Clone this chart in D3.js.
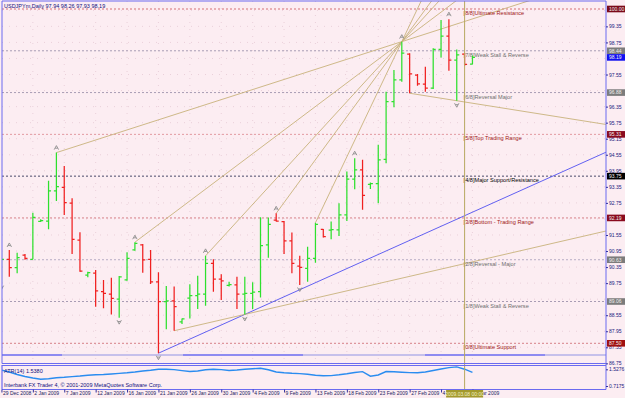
<!DOCTYPE html>
<html>
<head>
<meta charset="utf-8">
<script src="https://cdn.jsdelivr.net/npm/d3@7"></script>
<style>
body { margin: 0; background: #fcedf2; }
svg { display: block; font-family: "Liberation Sans", Arial, sans-serif; }
</style>
</head>
<body>
<svg id="chart" width="625" height="398"></svg>
<script>
// daily bars (forex feed, includes sunday bars)
var dates = ["29 Dec 2008","30 Dec 2008","31 Dec 2008","1 Jan 2009","2 Jan 2009","4 Jan 2009","5 Jan 2009",
  "6 Jan 2009","7 Jan 2009","8 Jan 2009","9 Jan 2009","11 Jan 2009","12 Jan 2009","13 Jan 2009","14 Jan 2009",
  "15 Jan 2009","16 Jan 2009","18 Jan 2009","19 Jan 2009","20 Jan 2009","21 Jan 2009","22 Jan 2009","23 Jan 2009",
  "25 Jan 2009","26 Jan 2009","27 Jan 2009","28 Jan 2009","29 Jan 2009","30 Jan 2009","1 Feb 2009","2 Feb 2009",
  "3 Feb 2009","4 Feb 2009","5 Feb 2009","6 Feb 2009","8 Feb 2009","9 Feb 2009","10 Feb 2009","11 Feb 2009",
  "12 Feb 2009","13 Feb 2009","15 Feb 2009","16 Feb 2009","17 Feb 2009","18 Feb 2009","19 Feb 2009","20 Feb 2009",
  "22 Feb 2009","23 Feb 2009","24 Feb 2009","25 Feb 2009","26 Feb 2009","27 Feb 2009","1 Mar 2009","2 Mar 2009",
  "3 Mar 2009","4 Mar 2009","5 Mar 2009","6 Mar 2009","8 Mar 2009","9 Mar 2009"];
var opens  = [90.40,90.64,90.33,90.80,90.64,92.06,92.07,93.20,93.33,92.74,91.36,90.05,90.12,89.43,89.34,89.15,
  89.87,90.99,91.18,90.64,89.80,89.06,89.09,88.30,89.19,89.28,89.34,90.49,89.90,89.67,89.68,89.34,89.37,89.43,
  91.18,92.11,92.05,91.33,90.39,90.30,90.68,91.76,91.73,91.74,92.30,93.64,93.98,93.44,93.47,94.38,96.54,97.35,
  98.31,97.53,97.19,97.04,98.49,98.99,98.09,98.31,97.94];
var highs  = [90.90,90.99,90.89,90.84,92.38,92.14,93.58,94.63,94.13,92.92,91.65,90.18,90.24,89.87,89.95,90.02,
  90.90,91.28,91.21,90.99,90.16,89.64,89.62,88.43,89.71,90.03,90.77,90.64,90.08,89.80,89.99,89.99,89.78,92.21,
  92.20,92.36,92.07,91.64,90.77,91.11,92.01,91.77,92.05,92.74,93.92,94.42,94.36,93.51,94.92,96.91,97.72,98.78,
  98.35,97.57,97.84,98.53,99.59,99.62,98.49,98.35,98.26];
var lows   = [89.75,89.99,90.12,90.62,90.64,92.04,91.76,92.82,92.30,90.84,90.18,89.97,88.87,88.81,88.58,88.46,
  89.84,90.96,90.14,89.72,87.13,88.03,87.97,88.22,88.43,88.78,88.90,89.43,89.12,89.62,88.78,88.58,88.78,89.21,
  90.70,92.05,90.84,90.12,89.68,89.80,90.51,91.46,91.39,91.51,92.07,93.26,92.49,93.27,92.74,94.23,96.33,97.28,
  96.85,97.13,96.91,97.01,98.19,97.69,96.57,97.88,97.93];
var closes = [90.64,90.33,90.70,90.68,92.21,92.09,93.20,93.36,92.76,91.39,90.20,90.14,89.46,89.37,89.18,89.98,
  90.68,91.24,90.62,89.80,89.06,89.09,88.87,88.41,89.28,89.34,90.49,89.90,89.83,89.69,89.34,89.37,89.41,91.15,
  91.95,92.07,91.33,90.49,90.34,90.68,91.95,91.49,91.75,92.30,93.64,93.98,93.03,93.47,94.36,96.54,97.35,98.35,
  97.57,97.20,97.04,98.49,98.99,98.09,98.28,97.93,98.19];
var atr = [1.484,1.397,1.275,1.178,1.105,1.042,1.071,1.115,1.139,1.173,1.202,1.241,1.261,1.275,1.299,1.329,
  1.358,1.397,1.445,1.484,1.532,1.528,1.513,1.465,1.421,1.445,1.503,1.532,1.513,1.469,1.494,1.532,1.557,1.576,
  1.503,1.397,1.358,1.333,1.319,1.290,1.241,1.217,1.222,1.261,1.309,1.372,1.416,1.193,1.251,1.421,1.406,1.387,
  1.368,1.358,1.397,1.469,1.542,1.610,1.644,1.532,1.382];

// price grid steps; labels that sit under a level box are not drawn
var gridTicks = [99.95,99.35,98.75,98.15,97.55,96.95,96.35,95.75,95.15,94.55,93.95,93.35,92.75,92.15,91.55,
  90.95,90.35,89.75,89.15,88.55,87.95,87.35,86.75];
var priceTicks = [99.35,98.75,97.55,96.35,95.75,95.15,94.55,93.95,93.35,92.75,91.55,
  90.95,90.35,89.75,88.55,87.95,87.35,86.75];
var timeTicks = ["29 Dec 2008","2 Jan 2009","7 Jan 2009","12 Jan 2009","16 Jan 2009","21 Jan 2009","26 Jan 2009",
  "30 Jan 2009","4 Feb 2009","9 Feb 2009","13 Feb 2009","18 Feb 2009","23 Feb 2009","27 Feb 2009","4 Mar 2009","9 Mar 2009"];
var atrTicks = [1.5276, 0.7175];

// murrey math octave
var mmLevels = [100.00,98.4375,96.875,95.3125,93.75,92.1875,90.625,89.0625,87.50];
var mmNames = ["[8/8]Ultimate Resistance","[7/8]Weak Stall & Reverse","[6/8]Reversal Major",
  "[5/8]Top Trading Range","[4/8]Major Support/Resistance","[3/8]Bottom - Trading Range",
  "[2/8]Reversal - Major","[1/8]Weak Stall & Reverse","[0/8]Ultimate Support"];
var mmColors = ["#e29aa0","#a89cb4","#a89cb4","#e29aa0","#4a4a6a","#d68088","#b8aec6","#a89cb4","#d68088"];
var mmText = ["#a01818","#6e6e6e","#6e6e6e","#a01818","#000000","#a01818","#6e6e6e","#6e6e6e","#a01818"];
var mmBox = ["#7a0a1a","#7c7c7c","#7c7c7c","#8a0a1e","#000000","#8a0a1e","#7c7c7c","#7c7c7c","#a01010"];

var fractalUp = ["30 Dec 2008","6 Jan 2009","18 Jan 2009","28 Jan 2009","8 Feb 2009","19 Feb 2009","26 Feb 2009","5 Mar 2009"];
var fractalDown = ["29 Dec 2008","15 Jan 2009","21 Jan 2009","3 Feb 2009","11 Feb 2009","6 Mar 2009"];

var trendLines = [
  {a: ["6 Jan 2009", 94.63], b: ["26 Feb 2009", 98.78], color: "#c8b27c"},
  {a: ["18 Jan 2009", 91.28], b: ["26 Feb 2009", 98.78], color: "#c8b27c"},
  {a: ["28 Jan 2009", 90.77], b: ["26 Feb 2009", 98.78], color: "#c8b27c"},
  {a: ["8 Feb 2009", 92.36], b: ["26 Feb 2009", 98.78], color: "#c8b27c"},
  {a: ["13 Feb 2009", 92.01], b: ["26 Feb 2009", 98.78], color: "#c8b27c"},
  {a: ["21 Jan 2009", 87.13], b: ["3 Feb 2009", 88.58], color: "#5050f0"},
  {a: ["23 Jan 2009", 87.97], b: ["3 Feb 2009", 88.58], color: "#c8b27c"},
  {a: ["27 Feb 2009", 96.85], b: ["6 Mar 2009", 96.57], color: "#c8b27c"}
];

var bars = dates.map(function(d, i) {
  return {date: d, o: opens[i], h: highs[i], l: lows[i], c: closes[i], atr: atr[i]};
});
var byDate = new Map(bars.map(b => [b.date, b]));

var plotLeft = 2, plotRight = 606, plotTop = 1, mainBottom = 363.5, subTop = 365.5, subBottom = 389.5;
var svg = d3.select("#chart");

var x = d3.scalePoint().domain(dates).range([1.45, 472.45]);
var y = d3.scaleLinear().domain([87.5, 100]).range([343.3, 9]);
var ya = d3.scaleLinear().domain([0.7175, 1.5276]).range([386, 369.3]);

var defs = svg.append("defs");
defs.append("clipPath").attr("id", "clipMain").append("rect")
  .attr("x", plotLeft).attr("y", plotTop).attr("width", plotRight - plotLeft).attr("height", mainBottom - plotTop);
defs.append("clipPath").attr("id", "clipSub").append("rect")
  .attr("x", plotLeft).attr("y", subTop).attr("width", plotRight - plotLeft).attr("height", subBottom - subTop);

svg.append("rect").attr("width", 625).attr("height", 398).attr("fill", "#fcedf2");

var main = svg.append("g").attr("clip-path", "url(#clipMain)");

// dotted grid
main.append("g").selectAll("line").data(gridTicks).enter().append("line")
  .attr("x1", plotLeft).attr("x2", plotRight).attr("y1", d => y(d)).attr("y2", d => y(d))
  .attr("stroke", "#e2c4d0").attr("stroke-width", 0.7).attr("stroke-dasharray", "1,6");
main.append("g").selectAll("line").data(timeTicks).enter().append("line")
  .attr("x1", d => x(d)).attr("x2", d => x(d)).attr("y1", plotTop).attr("y2", mainBottom)
  .attr("stroke", "#e2c4d0").attr("stroke-width", 0.7).attr("stroke-dasharray", "1,6");

// bottom band line
var band = [[plotLeft, 62, "#6a6af0"], [62, 183, "#b4b0e8"], [183, 303, "#6a6af0"], [303, 425, "#b4b0e8"],
  [425, 545, "#6a6af0"], [545, plotRight, "#b4b0e8"]];
main.append("g").selectAll("line").data(band).enter().append("line")
  .attr("x1", d => d[0]).attr("x2", d => d[1]).attr("y1", 355).attr("y2", 355)
  .attr("stroke", d => d[2]).attr("stroke-width", 1.6);

// murrey lines
mmLevels.forEach(function(v, i) {
  main.append("line").attr("x1", plotLeft).attr("x2", plotRight).attr("y1", y(v)).attr("y2", y(v))
    .attr("stroke", mmColors[i]).attr("stroke-width", i === 0 ? 1.3 : 1).attr("stroke-dasharray", "2,2");
});

// trend lines, extended to the right edge
trendLines.forEach(function(t) {
  var x1 = x(t.a[0]), y1 = y(t.a[1]), x2 = x(t.b[0]), y2 = y(t.b[1]);
  var k = (y2 - y1) / (x2 - x1);
  main.append("line").attr("x1", x1).attr("y1", y1).attr("x2", plotRight).attr("y2", y1 + k * (plotRight - x1))
    .attr("stroke", t.color).attr("stroke-width", 0.9);
});

// murrey labels
var cursorX = x("8 Mar 2009");
main.append("g").selectAll("text").data(mmLevels).enter().append("text")
  .attr("x", cursorX - 1).attr("y", d => y(d) + 6)
  .attr("font-size", "5.6px").attr("fill", (d, i) => mmText[i])
  .text((d, i) => mmNames[i]);

// ohlc bars
var ohlc = main.append("g").selectAll("g").data(bars).enter().append("g")
  .attr("stroke", d => d.c >= d.o ? "#2ee02e" : "#f02020").attr("stroke-width", 1.25);
ohlc.append("line").attr("x1", d => x(d.date)).attr("x2", d => x(d.date))
  .attr("y1", d => y(d.h)).attr("y2", d => y(d.l));
ohlc.append("line").attr("x1", d => x(d.date) - 2.5).attr("x2", d => x(d.date))
  .attr("y1", d => y(d.o)).attr("y2", d => y(d.o));
ohlc.append("line").attr("x1", d => x(d.date)).attr("x2", d => x(d.date) + 2.5)
  .attr("y1", d => y(d.c)).attr("y2", d => y(d.c));

// fractals
main.append("g").selectAll("path").data(fractalUp).enter().append("path")
  .attr("transform", d => "translate(" + x(d) + "," + (y(byDate.get(d).h) - 5) + ")")
  .attr("d", "M-2.2,2 L0,-2 L2.2,2 M-1.2,0.6 L1.2,0.6")
  .attr("fill", "none").attr("stroke", "#8c8c8c").attr("stroke-width", 0.9);
main.append("g").selectAll("path").data(fractalDown).enter().append("path")
  .attr("transform", d => "translate(" + x(d) + "," + (y(byDate.get(d).l) + 4.5) + ")")
  .attr("d", "M-2.2,-2 L0,2 L2.2,-2 M-1.2,-0.6 L1.2,-0.6")
  .attr("fill", "none").attr("stroke", "#8c8c8c").attr("stroke-width", 0.9);

// atr sub window
var sub = svg.append("g").attr("clip-path", "url(#clipSub)");
sub.append("path").datum(bars)
  .attr("d", d3.line().x(d => x(d.date)).y(d => ya(d.atr)))
  .attr("fill", "none").attr("stroke", "#2a8cf0").attr("stroke-width", 1.4);

// vertical cursor line
svg.append("line").attr("x1", cursorX).attr("x2", cursorX).attr("y1", plotTop).attr("y2", subBottom)
  .attr("stroke", "#b8a860").attr("stroke-width", 1);

// frames
var frame = "#6a6af0";
svg.append("path").attr("d", "M" + plotLeft + "," + mainBottom + "V" + plotTop + "H" + plotRight + "V" + subBottom)
  .attr("fill", "none").attr("stroke", frame).attr("stroke-width", 1);
svg.append("line").attr("x1", plotLeft).attr("x2", plotRight).attr("y1", mainBottom).attr("y2", mainBottom)
  .attr("stroke", frame).attr("stroke-width", 1.2);
svg.append("path").attr("d", "M" + plotLeft + "," + subBottom + "V" + subTop + "H" + plotRight)
  .attr("fill", "none").attr("stroke", frame).attr("stroke-width", 1.2);
svg.append("line").attr("x1", plotLeft).attr("x2", plotRight).attr("y1", subBottom).attr("y2", subBottom)
  .attr("stroke", frame).attr("stroke-width", 1);

// price axis
var ax = svg.append("g").attr("transform", "translate(" + plotRight + ",0)")
  .call(d3.axisRight(y).tickValues(priceTicks).tickSize(2).tickPadding(1).tickFormat(d3.format(".2f")));
ax.select(".domain").remove();
ax.selectAll("line").attr("stroke", "#3030a0");
ax.selectAll("text").attr("font-size", "5px").attr("fill", "#202080").attr("font-family", "Liberation Sans, Arial");

// atr axis labels
var aax = svg.append("g").attr("transform", "translate(" + plotRight + ",0)")
  .call(d3.axisRight(ya).tickValues(atrTicks).tickSize(2).tickPadding(1).tickFormat(d3.format(".4f")));
aax.select(".domain").remove();
aax.selectAll("line").attr("stroke", "#3030a0");
aax.selectAll("text").attr("font-size", "5px").attr("fill", "#202080").attr("font-family", "Liberation Sans, Arial");

// level boxes on the price axis
var boxes = mmLevels.map((v, i) => ({v: v, fill: mmBox[i], label: v.toFixed(2)}));
boxes.splice(2, 0, {v: closes[closes.length - 1], fill: "#1010f0", label: closes[closes.length - 1].toFixed(2)});
var bx = svg.append("g").selectAll("g").data(boxes).enter().append("g")
  .attr("transform", d => "translate(" + (plotRight + 1) + "," + y(d.v) + ")");
bx.append("rect").attr("x", 0).attr("y", -3.3).attr("width", 18).attr("height", 6.6).attr("fill", d => d.fill);
bx.append("text").attr("x", 2).attr("y", 1.8).attr("font-size", "5px").attr("fill", "#f0f0f0").text(d => d.label);

// time axis
var tx = svg.append("g").attr("transform", "translate(0," + subBottom + ")")
  .call(d3.axisBottom(x).tickValues(timeTicks).tickSize(3).tickPadding(0));
tx.select(".domain").remove();
tx.selectAll("line").attr("stroke", "#3030a0");
tx.selectAll("text").attr("text-anchor", "start").attr("dx", 1).attr("dy", "0.35em").attr("y", 3.5)
  .attr("font-size", "5px").attr("fill", "#202060").attr("font-family", "Liberation Sans, Arial");

// cursor date box
svg.append("rect").attr("x", cursorX - 18.5).attr("y", subBottom + 0.5).attr("width", 37).attr("height", 7.5)
  .attr("fill", "#a39a2c");
svg.append("text").attr("x", cursorX).attr("y", subBottom + 6).attr("text-anchor", "middle")
  .attr("font-size", "5px").attr("fill", "#f4f0c8").text("2009.03.08 00:00");

// titles
svg.append("text").attr("x", 4).attr("y", 8).attr("font-size", "5.5px").attr("fill", "#101080")
  .text("USDJPYm,Daily  97.94 98.26 97.93 98.19");
svg.append("text").attr("x", 4).attr("y", 373).attr("font-size", "5.5px").attr("fill", "#101080")
  .text("ATR(14) 1.5380");
svg.append("text").attr("x", 4).attr("y", 387).attr("font-size", "5.5px").attr("fill", "#101080")
  .text("Interbank FX Trader 4, \u00a9 2001-2009 MetaQuotes Software Corp.");
</script>
</body>
</html>
